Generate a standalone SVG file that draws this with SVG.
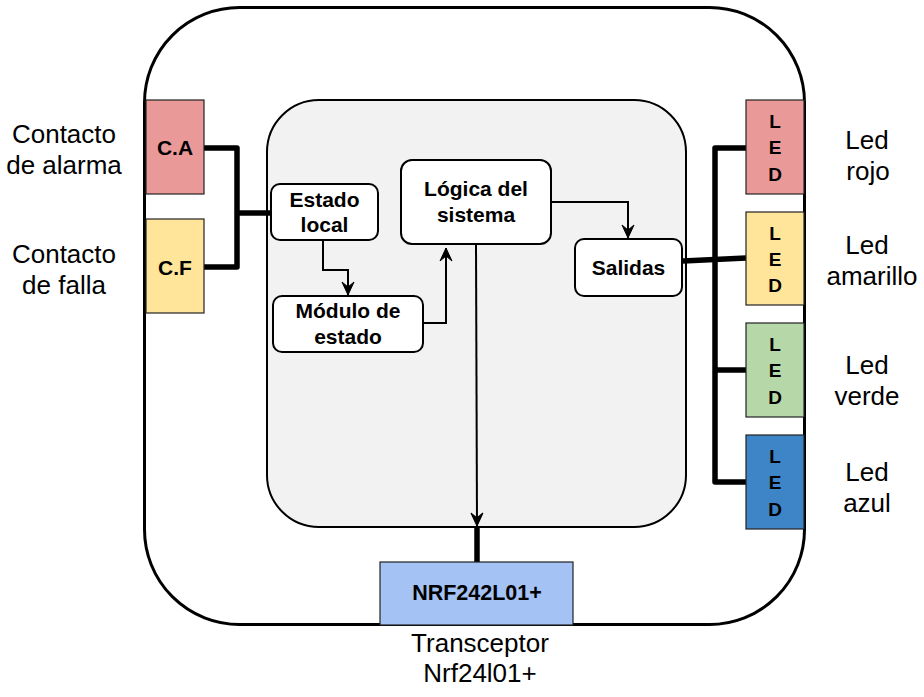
<svg xmlns="http://www.w3.org/2000/svg" width="924" height="697" viewBox="0 0 924 697">
<style>
.lbl{font-family:"Liberation Sans",Arial,sans-serif;font-size:26px;fill:#000;text-anchor:middle}
.bt{font-family:"Liberation Sans",Arial,sans-serif;font-size:21px;font-weight:bold;fill:#000;text-anchor:middle}
.led{font-family:"Liberation Sans",Arial,sans-serif;font-size:19px;font-weight:bold;fill:#000;text-anchor:middle}
.box{fill:#fff;stroke:#000;stroke-width:2}
.sq{stroke:#222;stroke-width:1.2}
.thin{fill:none;stroke:#000;stroke-width:2}
.thick{fill:none;stroke:#000;stroke-width:5.5;stroke-linejoin:round}
</style>
<defs>
<marker id="arr" markerUnits="userSpaceOnUse" markerWidth="16" markerHeight="16" viewBox="-14 -7 16 14" refX="0" refY="0" orient="auto">
<path d="M0,0 L-13,-6 L-8,0 L-13,6 Z" fill="#000" stroke="#000" stroke-width="1" stroke-linejoin="miter"/>
</marker>
</defs>
<rect width="924" height="697" fill="#fff"/>
<g id="outer"><rect x="144.5" y="7.5" width="660" height="617" rx="95" ry="95" fill="#fff" stroke="#000" stroke-width="3"/></g>
<g id="inner"><rect x="267" y="100" width="419" height="427" rx="52" ry="52" fill="#f2f2f2" stroke="#000" stroke-width="2"/></g>

<g id="connectors">
<path class="thick" d="M204,148 H237 V267 H204"/>
<path class="thick" d="M237,213 H270"/>
<path class="thick" d="M683,261 L746,258"/>
<path class="thick" d="M746,148 H715 V482 H746"/>
<path class="thick" d="M715,370 H746"/>
<path class="thick" d="M477,527 V562"/>
<path class="thin" d="M323,240 V270 H348 V295" marker-end="url(#arr)"/>
<path class="thin" d="M423,323 H446 V248" marker-end="url(#arr)"/>
<path class="thin" d="M551,202 H628 V238" marker-end="url(#arr)"/>
<path class="thin" d="M476,244 L477,526" marker-end="url(#arr)"/>
</g>

<g id="ca"><rect class="sq" x="146" y="100" width="58" height="94" fill="#ea9999"/><text class="bt" x="175" y="155">C.A</text></g>
<g id="cf"><rect class="sq" x="146" y="219" width="58" height="94" fill="#ffe599"/><text class="bt" x="175" y="275">C.F</text></g>

<g id="estado-local"><rect class="box" x="271" y="184" width="107" height="56" rx="9"/><text class="bt" x="324.5" y="207">Estado</text><text class="bt" x="324.5" y="232">local</text></g>
<g id="modulo"><rect class="box" x="273" y="296" width="150" height="56" rx="9"/><text class="bt" x="348" y="318">Módulo de</text><text class="bt" x="348" y="344">estado</text></g>
<g id="logica"><rect class="box" x="401" y="160" width="150" height="84" rx="11"/><text class="bt" x="476" y="196">Lógica del</text><text class="bt" x="476" y="222">sistema</text></g>
<g id="salidas"><rect class="box" x="575" y="239" width="107" height="57" rx="9"/><text class="bt" x="628.5" y="275">Salidas</text></g>

<g id="led-rojo"><rect class="sq" x="746" y="100" width="58" height="94" fill="#ea9999"/><text class="led" x="775" y="128">L</text><text class="led" x="775" y="154">E</text><text class="led" x="775" y="181">D</text></g>
<g id="led-amarillo"><rect class="sq" x="746" y="212" width="58" height="93" fill="#ffe599"/><text class="led" x="775" y="240">L</text><text class="led" x="775" y="266">E</text><text class="led" x="775" y="292">D</text></g>
<g id="led-verde"><rect class="sq" x="746" y="323" width="58" height="94" fill="#b6d7a8"/><text class="led" x="775" y="351">L</text><text class="led" x="775" y="377">E</text><text class="led" x="775" y="404">D</text></g>
<g id="led-azul"><rect class="sq" x="746" y="435" width="58" height="94" fill="#3d85c6"/><text class="led" x="775" y="463">L</text><text class="led" x="775" y="489">E</text><text class="led" x="775" y="516">D</text></g>

<g id="nrf"><rect class="sq" x="380" y="562" width="193" height="63" fill="#a4c2f4"/><text class="bt" x="477" y="600" style="font-size:21.5px">NRF242L01+</text></g>

<g id="labels">
<text class="lbl" x="64" y="143">Contacto</text><text class="lbl" x="64" y="174">de alarma</text>
<text class="lbl" x="64" y="263">Contacto</text><text class="lbl" x="64" y="294">de falla</text>
<text class="lbl" x="867" y="149">Led</text><text class="lbl" x="868" y="180">rojo</text>
<text class="lbl" x="867" y="254">Led</text><text class="lbl" x="872" y="285">amarillo</text>
<text class="lbl" x="867" y="374">Led</text><text class="lbl" x="867" y="405">verde</text>
<text class="lbl" x="867" y="481">Led</text><text class="lbl" x="867" y="512">azul</text>
<text class="lbl" x="480" y="652">Transceptor</text><text class="lbl" x="480" y="682">Nrf24l01+</text>
</g>
</svg>
